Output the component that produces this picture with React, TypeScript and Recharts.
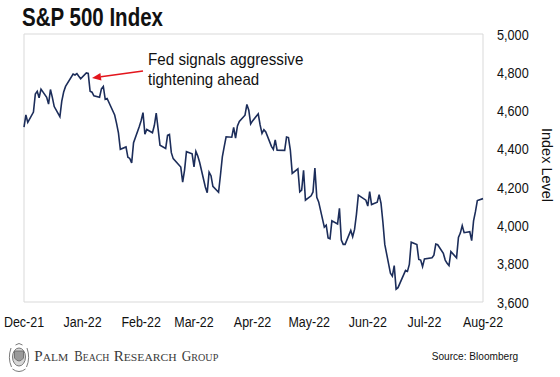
import React from "react";
import { LineChart, Line, XAxis, YAxis, ReferenceArea, ReferenceLine } from "recharts";

// S&P 500 daily closes, Dec 2021 – Aug 2022
const dates = [
  "2021-12-01","2021-12-02","2021-12-03","2021-12-06","2021-12-07","2021-12-08","2021-12-09","2021-12-10","2021-12-13","2021-12-14","2021-12-15","2021-12-16","2021-12-17","2021-12-20","2021-12-21","2021-12-22","2021-12-23","2021-12-27","2021-12-28","2021-12-29","2021-12-30","2021-12-31",
  "2022-01-03","2022-01-04","2022-01-05","2022-01-06","2022-01-07","2022-01-10","2022-01-11","2022-01-12","2022-01-13","2022-01-14","2022-01-18","2022-01-19","2022-01-20","2022-01-21","2022-01-24","2022-01-25","2022-01-26","2022-01-27","2022-01-28","2022-01-31",
  "2022-02-01","2022-02-02","2022-02-03","2022-02-04","2022-02-07","2022-02-08","2022-02-09","2022-02-10","2022-02-11","2022-02-14","2022-02-15","2022-02-16","2022-02-17","2022-02-18","2022-02-22","2022-02-23","2022-02-24","2022-02-25","2022-02-28",
  "2022-03-01","2022-03-02","2022-03-03","2022-03-04","2022-03-07","2022-03-08","2022-03-09","2022-03-10","2022-03-11","2022-03-14","2022-03-15","2022-03-16","2022-03-17","2022-03-18","2022-03-21","2022-03-22","2022-03-23","2022-03-24","2022-03-25","2022-03-28","2022-03-29","2022-03-30","2022-03-31",
  "2022-04-01","2022-04-04","2022-04-05","2022-04-06","2022-04-07","2022-04-08","2022-04-11","2022-04-12","2022-04-13","2022-04-14","2022-04-18","2022-04-19","2022-04-20","2022-04-21","2022-04-22","2022-04-25","2022-04-26","2022-04-27","2022-04-28","2022-04-29",
  "2022-05-02","2022-05-03","2022-05-04","2022-05-05","2022-05-06","2022-05-09","2022-05-10","2022-05-11","2022-05-12","2022-05-13","2022-05-16","2022-05-17","2022-05-18","2022-05-19","2022-05-20","2022-05-23","2022-05-24","2022-05-25","2022-05-26","2022-05-27","2022-05-31",
  "2022-06-01","2022-06-02","2022-06-03","2022-06-06","2022-06-07","2022-06-08","2022-06-09","2022-06-10","2022-06-13","2022-06-14","2022-06-15","2022-06-16","2022-06-17","2022-06-21","2022-06-22","2022-06-23","2022-06-24","2022-06-27","2022-06-28","2022-06-29","2022-06-30",
  "2022-07-01","2022-07-05","2022-07-06","2022-07-07","2022-07-08","2022-07-11","2022-07-12","2022-07-13","2022-07-14","2022-07-15","2022-07-18","2022-07-19","2022-07-20","2022-07-21","2022-07-22","2022-07-25","2022-07-26","2022-07-27","2022-07-28","2022-07-29",
  "2022-08-01",
];

const closes = [
  4513,4577,4538,4592,4687,4701,4667,4712,4669,4634,4710,4669,4621,4568,4649,4697,4726,4791,4786,4793,4779,4766,
  4797,4794,4701,4696,4677,4670,4713,4726,4659,4663,4577,4533,4483,4398,4410,4356,4350,4327,4432,4516,
  4547,4589,4477,4501,4484,4522,4587,4504,4419,4402,4471,4475,4380,4349,4305,4226,4289,4385,4374,
  4306,4387,4363,4329,4201,4171,4278,4260,4204,4173,4262,4358,4412,4463,4461,4512,4456,4520,4543,4576,4632,4602,4530,
  4546,4583,4525,4481,4500,4488,4413,4397,4447,4393,4392,4462,4459,4394,4272,4296,4175,4184,4288,4132,
  4155,4175,4300,4147,4123,3991,4001,3935,3930,4024,4008,4089,3924,3901,3901,3974,3941,3979,4058,4158,4132,
  4101,4177,4109,4121,4161,4116,4018,3901,3750,3735,3790,3667,3675,3765,3760,3796,3912,3900,3822,3819,3785,
  3825,3831,3845,3903,3899,3854,3819,3802,3790,3863,3831,3937,3960,3999,3962,3967,3921,4024,4072,4130,
  4140,
];

const monthTickDates = ["2021-12-01","2022-01-01","2022-02-01","2022-03-01","2022-04-01","2022-05-01","2022-06-01","2022-07-01","2022-08-01"];
const monthTickLabels = ["Dec-21","Jan-22","Feb-22","Mar-22","Apr-22","May-22","Jun-22","Jul-22","Aug-22"];
const yTicks = [3600, 3800, 4000, 4200, 4400, 4600, 4800, 5000];

// annotation arrow: from text to the early-January peak
const arrowFrom = { date: "2022-02-02", value: 4807 };
const arrowTo = { date: "2022-01-06", value: 4770 };
const annotationLines = ["Fed signals aggressive", "tightening ahead"];

const footerWords = [
  { big: "P", small: "ALM" },
  { big: "B", small: "EACH" },
  { big: "R", small: "ESEARCH" },
  { big: "G", small: "ROUP" },
];

const DAY = 86400000;
const origin = Date.parse(dates[0]);
const toDay = (d: string) => (Date.parse(d) - origin) / DAY;

const data = dates.map((d, i) => ({ day: toDay(d), value: closes[i] }));
const monthTicks = monthTickDates.map(toDay);
const tickLabelFor = (v: number) => {
  const i = monthTicks.indexOf(v);
  return i >= 0 ? monthTickLabels[i] : "";
};

const FONT = "'Liberation Sans', Arial, sans-serif";
const LINE_COLOR = "#1c2d5a";
const RED = "#e3151c";
const SQUEEZE = 0.89;

const XTick = (props: any) => {
  const { x, y, payload } = props;
  return (
    <g transform={`translate(${x},${y + 24.5}) scale(${SQUEEZE},1)`}>
      <text x={0} y={0} textAnchor="middle" fontFamily={FONT} fontSize={14} fill="#111">
        {tickLabelFor(payload.value)}
      </text>
    </g>
  );
};

const YTick = (props: any) => {
  const { x, y, payload } = props;
  return (
    <g transform={`translate(${x + 14},${y + 5.5}) scale(0.905,1)`}>
      <text x={0} y={0} textAnchor="start" fontFamily={FONT} fontSize={14} fill="#111">
        {Number(payload.value).toLocaleString("en-US")}
      </text>
    </g>
  );
};

const ArrowShape = (props: any) => {
  const { x1, y1, x2, y2 } = props;
  const ang = Math.atan2(y2 - y1, x2 - x1);
  const headLen = 9;
  const headW = 3.8;
  const bx = x2 - headLen * Math.cos(ang);
  const by = y2 - headLen * Math.sin(ang);
  const px = -Math.sin(ang);
  const py = Math.cos(ang);
  const pts = `${x2},${y2} ${bx + px * headW},${by + py * headW} ${bx - px * headW},${by - py * headW}`;
  return (
    <g>
      <line x1={x1} y1={y1} x2={bx} y2={by} stroke={RED} strokeWidth={1.6} />
      <polygon points={pts} fill={RED} />
      <g transform={`translate(${x1 + 5},${y1 - 6}) scale(0.95,1)`}>
        <text x={0} y={0} fontFamily={FONT} fontSize={16} fill="#111">
          {annotationLines[0]}
        </text>
      </g>
      <g transform={`translate(${x1 + 5},${y1 + 14}) scale(0.94,1)`}>
        <text x={0} y={0} fontFamily={FONT} fontSize={16} fill="#111">
          {annotationLines[1]}
        </text>
      </g>
    </g>
  );
};

const YLabel = (props: any) => {
  const vb = props.viewBox || {};
  const cx = vb.x + 64;
  const cy = vb.y + vb.height / 2 - 3;
  return (
    <text
      x={cx}
      y={cy}
      transform={`rotate(90, ${cx}, ${cy})`}
      textAnchor="middle"
      dominantBaseline="central"
      fontFamily={FONT}
      fontSize={14.5}
      fill="#111"
    >
      Index Level
    </text>
  );
};

const Logo = () => (
  <g stroke="#6b6b6b" fill="none" strokeWidth={0.9}>
    <ellipse cx={19} cy={357} rx={6.5} ry={9} fill="#d6d6d6" />
    <path d="M14.5 351 L23.5 351 L23.5 358 Q19 364 14.5 358 Z" fill="#9a9a9a" />
    <path d="M11 348 Q7.5 358 11.5 367 M27 348 Q30.5 358 26.5 367" />
    <path d="M12.5 369 Q19 374 25.5 369" />
    <path d="M15.5 345 Q19 342 22.5 345" />
  </g>
);

// word positions of the footer brand text (left edge, width)
const footerLayout = [
  [34.3, 34],
  [74.3, 35],
  [113.7, 63],
  [181.7, 36.6],
];

export default function App() {
  return (
    <div style={{ position: "absolute", left: 0, top: 0, width: 560, height: 377, background: "#fff" }}>
      <div style={{ position: "absolute", left: 0, top: 0 }}>
        <LineChart width={560} height={377} data={data} margin={{ top: 34, right: 13, bottom: 45, left: 24 }}>
          <XAxis
            dataKey="day"
            type="number"
            domain={[monthTicks[0], monthTicks[monthTicks.length - 1]]}
            ticks={monthTicks}
            interval={0}
            axisLine={false}
            tickLine={false}
            tickSize={0}
            tickMargin={0}
            height={30}
            tick={<XTick />}
          />
          <YAxis
            orientation="right"
            domain={[3600, 5000]}
            ticks={yTicks}
            interval={0}
            axisLine={false}
            tickLine={false}
            tickSize={0}
            tickMargin={0}
            width={64}
            tick={<YTick />}
            label={<YLabel />}
          />
          <ReferenceArea
            x1={monthTicks[0]}
            x2={monthTicks[monthTicks.length - 1]}
            y1={3600}
            y2={5000}
            fill="none"
            stroke="#d9d9d9"
            strokeWidth={1}
            ifOverflow="visible"
          />
          <Line
            type="linear"
            dataKey="value"
            stroke={LINE_COLOR}
            strokeWidth={1.6}
            dot={false}
            isAnimationActive={false}
          />
          <ReferenceLine
            segment={[
              { x: toDay(arrowFrom.date), y: arrowFrom.value },
              { x: toDay(arrowTo.date), y: arrowTo.value },
            ]}
            ifOverflow="visible"
            shape={ArrowShape}
          />
        </LineChart>
      </div>
      <svg width={560} height={377} style={{ position: "absolute", left: 0, top: 0, pointerEvents: "none" }}>
        <text
          x={22}
          y={26}
          fontFamily="'Liberation Sans Narrow', 'Arial Narrow', 'Liberation Sans', Arial, sans-serif"
          fontWeight="bold"
          fontSize={25}
          textLength={141}
          lengthAdjust="spacingAndGlyphs"
          fill="#111"
        >
          S&amp;P 500 Index
        </text>
        <Logo />
        {footerWords.map((w, i) => (
          <text
            key={w.big + w.small}
            x={footerLayout[i][0]}
            y={360.7}
            fontFamily="'Liberation Serif', 'DejaVu Serif', serif"
            fill="#3a3a3a"
            textLength={footerLayout[i][1]}
            lengthAdjust="spacingAndGlyphs"
          >
            <tspan fontSize={13.8}>{w.big}</tspan>
            <tspan fontSize={10.6}>{w.small}</tspan>
          </text>
        ))}
        <g transform="translate(431.7,360) scale(0.92,1)">
          <text x={0} y={0} fontFamily={FONT} fontSize={11} fill="#111">
            Source: Bloomberg
          </text>
        </g>
      </svg>
    </div>
  );
}
